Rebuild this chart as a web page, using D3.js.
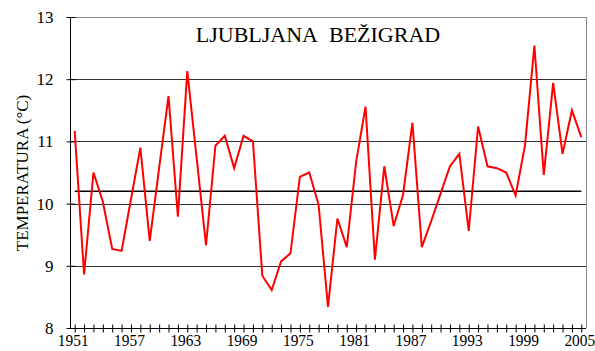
<!DOCTYPE html>
<html>
<head>
<meta charset="utf-8">
<script src="https://cdn.jsdelivr.net/npm/d3@7"></script>
<style>
  html, body { margin: 0; padding: 0; background: #fff; }
  svg { display: block; }
  svg text { font-family: "Liberation Serif", "Times New Roman", "DejaVu Serif", serif; fill: #000; }
</style>
</head>
<body>
<svg id="chart" width="595" height="351"></svg>
<script>
// Annual mean air temperature, Ljubljana Bežigrad
const years = d3.range(1951, 2006);
const temps = [
  11.17, 8.86, 10.50, 10.03, 9.27, 9.24, 10.07, 10.90, 9.40, 10.57,
  11.73, 9.79, 12.13, 10.73, 9.33, 10.93, 11.09, 10.57, 11.09, 11.00,
  8.84, 8.61, 9.07, 9.20, 10.43, 10.50, 9.98, 8.34, 9.76, 9.30,
  10.67, 11.56, 9.10, 10.60, 9.64, 10.14, 11.30, 9.30, 9.72, 10.16,
  10.60, 10.80, 9.56, 11.24, 10.60, 10.57, 10.50, 10.13, 10.94, 12.54,
  10.46, 11.94, 10.80, 11.50, 11.07
];
const meanTemp = 10.2;
const yTicks = [8, 9, 10, 11, 12, 13];
const gridValues = [9, 10, 11, 12];
const xTickLabels = [1951, 1957, 1963, 1969, 1975, 1981, 1987, 1993, 1999, 2005];
const titleText = "LJUBLJANA\u00a0\u00a0BEŽIGRAD";
const yTitle = "TEMPERATURA (°C)";

const plotL = 70, plotR = 586, plotT = 17, plotB = 328;
const svg = d3.select("#chart");

const x = d3.scalePoint().domain(years).range([plotL, plotR]).padding(0.5);
const y = d3.scaleLinear().domain([8, 13]).range([plotB, plotT]);

// horizontal grid
svg.append("g").selectAll("line").data(gridValues).join("line")
  .attr("x1", plotL).attr("x2", plotR)
  .attr("y1", d => Math.round(y(d)) + 0.5).attr("y2", d => Math.round(y(d)) + 0.5)
  .attr("stroke", "#333").attr("stroke-width", 1);

// frame: top and right in grey
svg.append("line").attr("x1", plotL).attr("x2", plotR + 0.5)
  .attr("y1", plotT + 0.5).attr("y2", plotT + 0.5)
  .attr("stroke", "#888").attr("stroke-width", 1);
svg.append("line").attr("x1", plotR + 0.5).attr("x2", plotR + 0.5)
  .attr("y1", plotT).attr("y2", plotB)
  .attr("stroke", "#888").attr("stroke-width", 1);

// y axis
const yAxis = svg.append("g").attr("transform", `translate(${plotL + 0.5},0)`)
  .call(d3.axisLeft(y).tickValues(yTicks).tickSize(4).tickPadding(13).tickFormat(d3.format("d")));
yAxis.attr("font-family", null);
yAxis.select(".domain").attr("stroke", "#000").attr("d", `M0,${plotT}V${plotB}`);
yAxis.selectAll(".tick line").attr("x1", -4).attr("x2", 5).attr("stroke", "#000");
yAxis.selectAll(".tick text").style("font-size", "17px");

// x axis
const xAxis = svg.append("g").attr("transform", `translate(0,${plotB + 0.5})`)
  .call(d3.axisBottom(x).tickValues(years).tickSize(4).tickPadding(1.5)
    .tickFormat(d => xTickLabels.includes(d) ? d : ""));
xAxis.attr("font-family", null);
xAxis.select(".domain").attr("stroke", "#000").attr("d", `M${plotL},0H${plotR}`);
xAxis.selectAll(".tick line").attr("y1", -4).attr("y2", 4).attr("stroke", "#000");
xAxis.selectAll(".tick text")
  .style("font-size", "17.5px")
  .attr("transform", "translate(-2,0) scale(0.88,1)");

// long-term mean
svg.append("line")
  .attr("x1", x(years[0])).attr("x2", x(years[years.length - 1]))
  .attr("y1", y(meanTemp)).attr("y2", y(meanTemp))
  .attr("stroke", "#000").attr("stroke-width", 1.5);

// temperature series
svg.append("path")
  .datum(years.map((yr, i) => [yr, temps[i]]))
  .attr("fill", "none").attr("stroke", "#ff0000").attr("stroke-width", 2)
  .attr("stroke-linejoin", "miter")
  .attr("d", d3.line().x(d => x(d[0])).y(d => y(d[1])));

// title
svg.append("text").attr("x", 318).attr("y", 42).attr("text-anchor", "middle")
  .style("font-size", "22px").text(titleText);

// y axis title
svg.append("text")
  .attr("transform", "translate(28,173) rotate(-90)")
  .attr("text-anchor", "middle").style("font-size", "17px")
  .text(yTitle);
</script>
</body>
</html>
